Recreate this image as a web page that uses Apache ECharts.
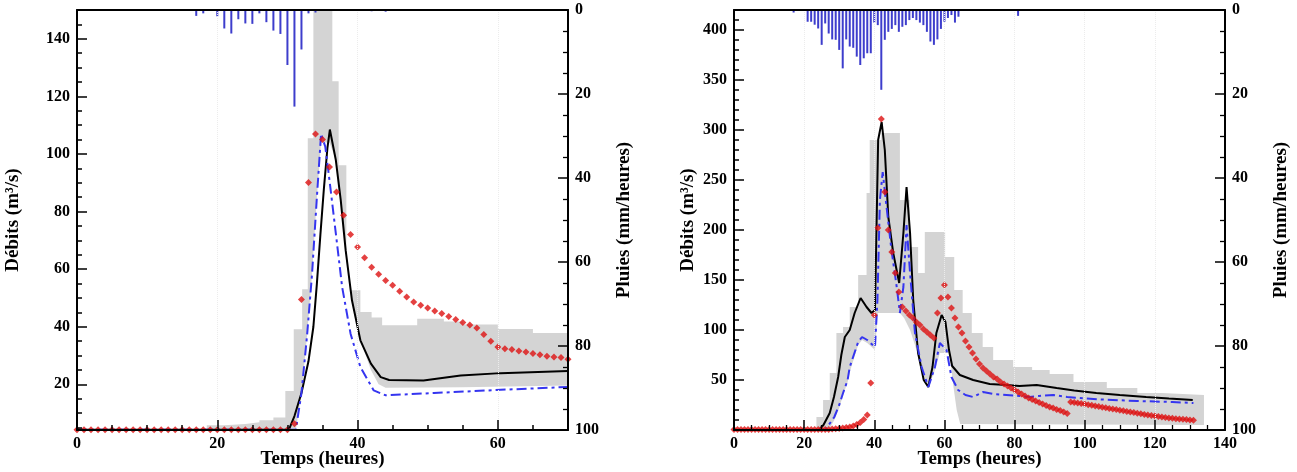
<!DOCTYPE html>
<html>
<head>
<meta charset="utf-8">
<script src="https://cdn.jsdelivr.net/npm/echarts@6/dist/echarts.min.js"></script>
<style>html,body{margin:0;padding:0;background:#fff}#c{width:1297px;height:472px}</style>
</head>
<body>
<div id="c"></div>
<script>
// ================= DATA : left event =================
const rainHoursL = [17,18,20,21,22,23,24,25,26,27,28,29,30,31,32,33,34,42,44];
const rainValsL  = [1.4,0.8,1.5,4.4,5.6,2.2,3.2,3.3,0.8,2.9,4.9,5.7,13.1,23.0,9.4,0.8,0.6,0.3,0.4];
const obsStartL = 0; // observed discharge, hourly from hour 0
const obsValsL = [4.2,4.2,4.2,4.2,4.2,4.2,4.2,4.2,4.2,4.2,4.2,4.2,4.2,4.2,4.2,4.2,4.2,4.2,4.2,4.2,4.2,4.2,4.2,4.2,4.2,4.2,4.2,4.2,4.2,4.2,4.2,
  6.3,49.5,90.1,106.9,105,95.5,86.8,78.7,72,67.7,64,60.7,58.2,56.1,54.4,52.3,50.3,48.6,47.5,46.5,45.5,44.6,43.6,42.5,41.5,40.6,39.6,37.3,35,33,32.4,32.1,31.6,31.2,30.7,30.3,29.8,29.5,29.3,28.7];
const simBlackL = [[0,4.2],[30.2,4.2],[31,9],[32,17],[33,28],[33.7,40],[34.2,55],[34.7,72],[35.2,88],[35.7,102],[36.05,108.5],[36.9,97.9],[37.6,84],[38.3,66.6],[39.2,49.2],[40.4,35.3],[41.9,27.2],[43.3,22.5],[44.5,21.5],[49.4,21.3],[54.7,23.1],[60.4,23.9],[70,24.6]];
const simBlueL = [[0,4.2],[31.2,4.2],[32,17],[32.8,37],[33.5,58],[34.2,85],[34.8,107],[35.4,102.5],[36.05,89.8],[36.9,72.4],[37.8,53.8],[39,37.6],[40.4,26],[42.3,17.9],[44,16.2],[50.9,17],[60.4,18.1],[70,19.1]];
const bandUpL = [[0,4.2],[18.5,5.8],[21,6.2],[24,6.8],[26,7.5],[28,8.5],[29.7,17.7],[30.9,39.1],[32.1,53],[32.9,105.5],[33.7,150],[36.4,125.3],[37.3,96.1],[38.4,52.7],[40.4,45.1],[42,43.2],[43.5,40.5],[48.5,42.8],[52.3,41.8],[55,40.8],[60,39.2],[65,37.8],[70,36.4]];
const bandLoL = [[0,4.2],[31.2,4.2],[32,17],[32.8,37],[33.5,58],[34.2,85],[34.8,104],[36,104],[36.9,97.9],[37.6,84],[38.3,66.6],[39.2,49.2],[40.4,35.3],[41.9,25],[43,20],[44,18.8],[55,19],[70,19.6]];

// ================= DATA : right event =================
const rainHoursR = [17,21,22,23,24,25,26,27,28,29,30,31,32,33,34,35,36,37,38,39,40,41,42,43,44,45,46,47,48,49,50,51,52,53,54,55,56,57,58,59,60,61,62,63,64,81];
const rainValsR  = [0.6,2.8,2.8,3.5,4.4,8.3,3.2,5.6,7.0,7.1,9.5,13.9,7.0,8.7,9.0,11.1,13.1,11.5,10.3,10.3,3.0,3.6,19.0,7.1,5.2,4.5,3.6,5.2,4.0,3.6,2.4,1.9,2.4,3.0,3.6,5.2,7.5,8.3,7.0,4.5,2.8,1.9,1.2,3.0,1.6,1.4];
const obsStartR = 0;
const obsValsR = [0.5,0.5,0.5,0.5,0.5,0.5,0.5,0.5,0.5,0.5,0.5,0.5,0.5,0.5,0.5,0.5,0.5,0.5,0.5,0.5,0.5,0.5,0.5,0.5,0.5,0.5,0.5,0.5,
  1,1.2,1.5,2,2.5,3,4,5.5,7.5,10.5,15,
  47,115,202,311,238,200,178,157,138,123,119,115,112,108,105,101,98,95,92,
  117,132,145,133,122,112,103,97,89,83,77,71,66,
  62,59,56,53,51,48,46,44,42,40,38,36,34,32,30.5,29,27.5,26,24.5,23,22,20.5,19.5,18,16.5,
  28,27.5,27,26.5,26,25.3,24.7,24,23.4,22.8,22.2,21.6,21,20.4,19.8,19.2,18.6,18,17.4,16.8,16.2,15.6,15,14.4,13.9,13.4,12.9,12.5,12.1,11.7,11.3,11,10.7,10.4,10.1,9.8];
const simBlackR = [[0,0],[24.2,0],[25.5,5],[27.3,17],[28.5,33],[29.7,53],[30.6,75],[31.6,93],[33,100],[34.4,117],[36.1,132],[37.8,123],[39.2,117],[40.2,120],[41.1,290],[42.1,308],[43,280],[44,213],[45.4,177],[47.1,147],[48.3,197],[49.2,243],[50.2,197],[51.1,130],[52.5,77],[54.1,50],[55.4,43],[56.6,63],[57.7,97],[59.2,115],[60.3,108],[61.3,80],[62.2,64],[64.4,55],[68.2,50],[72.9,46],[77.7,45],[81.4,44],[86.3,45],[92,42],[97,39.5],[103.3,37],[110,35],[117.5,33],[124,31.5],[130.8,30]];
const simBlueR = [[0,0],[26,0],[26.4,2],[28.6,13],[30,25],[31.1,37],[32.4,50],[33,63],[35.4,88],[36.5,93],[38,90],[40.2,83],[40.9,130],[41.6,230],[42.4,258],[43.5,223],[44.9,180],[46.4,143],[47.3,117],[48.3,143],[49.2,205],[50.2,157],[51.6,97],[53.5,63],[55.4,43],[57.3,63],[58.7,87],[60.6,80],[62,53],[63.9,40],[66,35],[68.2,33],[71,38],[74,36],[77.7,35],[81.5,34],[84.3,33],[87,34],[91,35],[95,33],[98.6,32],[105,30.5],[115,29],[125,28],[131,27]];
const bandUpR = [[0,0],[23.5,13],[25.4,30],[27.3,57],[29.2,97],[31.1,103],[33,123],[35.4,155],[37.8,237],[38.7,290],[42,297],[47.3,230],[50.1,183],[52.5,157],[54.4,198],[60.2,173],[62.8,140],[65.2,117],[67.8,97],[70.9,83],[73.9,70],[79.6,63],[85,60],[90,56],[96.8,48],[106.3,42],[115,37],[122,35],[134,35]];
const bandLoR = [[0,0],[27,0],[28.6,10],[30,22],[31.1,35],[32.4,48],[33,58],[35.4,85],[36.5,90],[38,87],[40.2,80],[41,117],[47.3,117],[48.5,112],[50.2,100],[51.6,85],[53.5,60],[55.4,42],[57.3,60],[58.7,77],[61.5,77],[62.5,45],[63.5,20],[64.5,6],[134,5]];

// ================= TICKS / LABELS =================
const xMajorL = [0,20,40,60];
const xMinorL = [5,10,15,25,30,35,45,50,55,65];
const yMajorL = [20,40,60,80,100,120,140];
const yMinorL = [5,10,15,25,30,35,45,50,55,65,70,75,85,90,95,105,110,115,125,130,135,145,150];
const yMajorR = [50,100,150,200,250,300,350,400];
const yMinorR = [10,20,30,40,60,70,80,90,110,120,130,140,160,170,180,190,210,220,230,240,260,270,280,290,310,320,330,340,360,370,380,390,410,420];
const xName = 'Temps (heures)';
const yNameQ = 'Débits (m³/s)';
const yNameP = 'Pluies (mm/heures)';

// ================= STYLE =================
const FONT = 'Liberation Serif';
const GREY = '#d4d4d4';
const RAIN = '#3d3dcc';
const BLUE = '#3535f0';
const RED = '#dd1111';
const lbl = {fontFamily: FONT, fontWeight: 'bold', fontSize: 16, color: '#000'};
const nm = {fontFamily: FONT, fontWeight: 'bold', fontSize: 19, color: '#000'};
const axLine = {show: true, onZero: false, lineStyle: {color: '#000', width: 2}};
const tick = (len) => ({show: true, inside: true, length: len, lineStyle: {color: '#000', width: 1.5}});

function pairs(hours, vals) { return hours.map((h, i) => [h, vals[i]]); }
function hourly(start, vals) { return vals.map((v, i) => [start + i, v]); }

function minorY(grid, min, max, vals) {
  return {type: 'value', gridIndex: grid, position: 'left', min: min, max: max, z: 10,
    axisLine: {show: false, onZero: false}, axisTick: Object.assign(tick(5), {customValues: vals}),
    axisLabel: {show: false}, splitLine: {show: false}};
}
function topX(grid, max) {
  return {type: 'value', gridIndex: grid, position: 'top', min: 0, max: max, z: 10,
    axisLine: axLine, axisTick: {show: false}, axisLabel: {show: false}, splitLine: {show: false}};
}
function pluies(grid) {
  return {type: 'value', gridIndex: grid, position: 'right', min: 0, max: 100, interval: 20, inverse: true, z: 10,
    axisLine: axLine, axisTick: tick(10), minorTick: {show: true, splitNumber: 4, length: 5, lineStyle: {color: '#000', width: 1.3}},
    axisLabel: Object.assign({margin: 7}, lbl), splitLine: {show: false},
    name: yNameP, nameLocation: 'middle', nameRotate: 90, nameGap: 47, nameMoveOverlap: false, nameTextStyle: nm};
}
const gridSplit = {show: true, lineStyle: {color: '#ececec', type: 'dotted', width: 1}};

const option = {
  animation: false,
  backgroundColor: '#fff',
  grid: [
    {left: 77, top: 10, width: 491, height: 420, outerBoundsMode: 'none', containLabel: false},
    {left: 734, top: 10, width: 491, height: 420, outerBoundsMode: 'none', containLabel: false}
  ],
  xAxis: [
    {type: 'value', gridIndex: 0, position: 'bottom', min: 0, max: 70, interval: 20, z: 10,
      axisLine: axLine, axisTick: Object.assign(tick(10), {customValues: xMajorL}),
      axisLabel: Object.assign({margin: 6, customValues: xMajorL}, lbl), splitLine: gridSplit,
      name: xName, nameLocation: 'middle', nameGap: 20, nameMoveOverlap: false, nameTextStyle: nm},
    {type: 'value', gridIndex: 0, position: 'bottom', min: 0, max: 70, z: 10,
      axisLine: {show: false, onZero: false}, axisTick: Object.assign(tick(5), {customValues: xMinorL}),
      axisLabel: {show: false}, splitLine: {show: false}},
    topX(0, 70),
    {type: 'value', gridIndex: 1, position: 'bottom', min: 0, max: 140, interval: 20, z: 10,
      axisLine: axLine, axisTick: tick(10), minorTick: {show: true, splitNumber: 4, length: 5, lineStyle: {color: '#000', width: 1.3}},
      axisLabel: Object.assign({margin: 6}, lbl), splitLine: gridSplit,
      name: xName, nameLocation: 'middle', nameGap: 20, nameMoveOverlap: false, nameTextStyle: nm},
    topX(1, 140)
  ],
  yAxis: [
    {type: 'value', gridIndex: 0, position: 'left', min: 4.15, max: 150, z: 10,
      axisLine: axLine, axisTick: Object.assign(tick(10), {customValues: yMajorL}),
      axisLabel: Object.assign({margin: 7, customValues: yMajorL}, lbl), splitLine: {show: false},
      name: yNameQ, nameLocation: 'middle', nameRotate: 90, nameGap: 54, nameMoveOverlap: false, nameTextStyle: nm},
    minorY(0, 4.15, 150, yMinorL),
    pluies(0),
    {type: 'value', gridIndex: 1, position: 'left', min: 0, max: 420, z: 10,
      axisLine: axLine, axisTick: Object.assign(tick(10), {customValues: yMajorR}),
      axisLabel: Object.assign({margin: 7, customValues: yMajorR}, lbl), splitLine: {show: false},
      name: yNameQ, nameLocation: 'middle', nameRotate: 90, nameGap: 36, nameMoveOverlap: false, nameTextStyle: nm},
    minorY(1, 0, 420, yMinorR),
    pluies(1)
  ],
  series: [
    // ---- left ----
    {type: 'line', xAxisIndex: 0, yAxisIndex: 0, data: bandUpL, step: 'end', symbol: 'none', silent: true, z: 1,
      lineStyle: {opacity: 0}, areaStyle: {color: GREY, opacity: 1, origin: 'start'}},
    {type: 'line', xAxisIndex: 0, yAxisIndex: 0, data: bandLoL, symbol: 'none', silent: true, z: 1,
      lineStyle: {opacity: 0}, areaStyle: {color: '#fff', opacity: 1, origin: 'start'}},
    {type: 'bar', xAxisIndex: 0, yAxisIndex: 2, data: pairs(rainHoursL, rainValsL), barWidth: 2, z: 3,
      itemStyle: {color: RAIN}},
    {type: 'line', xAxisIndex: 0, yAxisIndex: 0, data: simBlackL, symbol: 'none', z: 4,
      lineStyle: {color: '#000', width: 2}},
    {type: 'line', xAxisIndex: 0, yAxisIndex: 0, data: simBlueL, symbol: 'none', z: 5,
      lineStyle: {color: BLUE, width: 2, type: [10, 4, 3, 4]}},
    {type: 'scatter', xAxisIndex: 0, yAxisIndex: 0, data: hourly(obsStartL, obsValsL), symbol: 'diamond', symbolSize: 7, z: 6,
      itemStyle: {color: RED}},
    // ---- right ----
    {type: 'line', xAxisIndex: 3, yAxisIndex: 3, data: bandUpR, step: 'end', symbol: 'none', silent: true, z: 1,
      lineStyle: {opacity: 0}, areaStyle: {color: GREY, opacity: 1, origin: 'start'}},
    {type: 'line', xAxisIndex: 3, yAxisIndex: 3, data: bandLoR, symbol: 'none', silent: true, z: 1,
      lineStyle: {opacity: 0}, areaStyle: {color: '#fff', opacity: 1, origin: 'start'}},
    {type: 'bar', xAxisIndex: 3, yAxisIndex: 5, data: pairs(rainHoursR, rainValsR), barWidth: 2, z: 3,
      itemStyle: {color: RAIN}},
    {type: 'line', xAxisIndex: 3, yAxisIndex: 3, data: simBlackR, symbol: 'none', z: 4,
      lineStyle: {color: '#000', width: 2}},
    {type: 'line', xAxisIndex: 3, yAxisIndex: 3, data: simBlueR, symbol: 'none', z: 5,
      lineStyle: {color: BLUE, width: 2, type: [10, 4, 3, 4]}},
    {type: 'scatter', xAxisIndex: 3, yAxisIndex: 3, data: hourly(obsStartR, obsValsR), symbol: 'diamond', symbolSize: 7, z: 6,
      itemStyle: {color: RED}}
  ]
};
const chart = echarts.init(document.getElementById('c'), null, {renderer: 'canvas'});
chart.setOption(option);
</script>
</body>
</html>
